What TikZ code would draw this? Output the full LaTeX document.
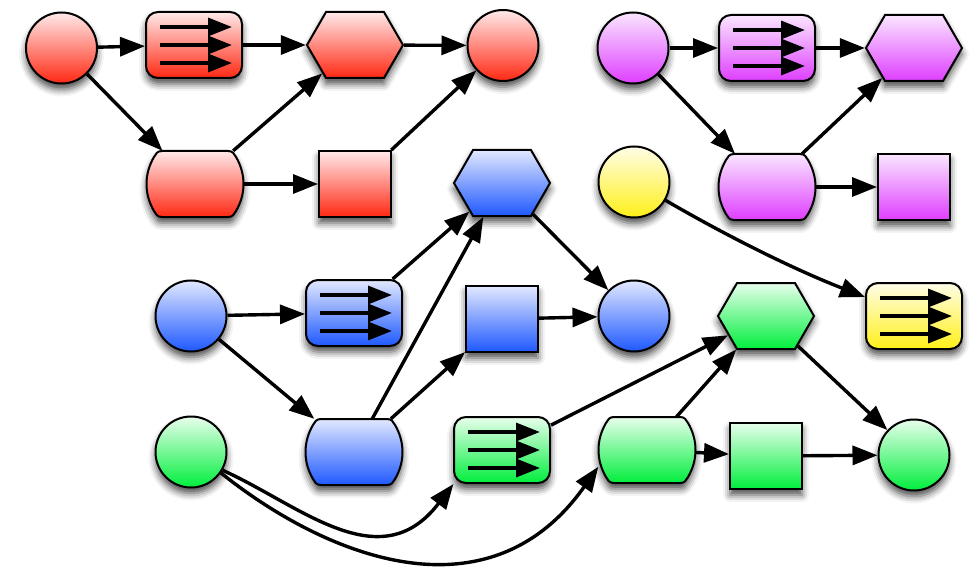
\documentclass[tikz,border=0pt]{standalone}
\usetikzlibrary{arrows.meta,shapes.symbols,shadows.blur}

% gradient colours: light top, saturated bottom
\definecolor{redTop}{RGB}{255,234,234}
\definecolor{redBot}{RGB}{255,40,18}
\definecolor{blueTop}{RGB}{226,232,255}
\definecolor{blueBot}{RGB}{30,88,255}
\definecolor{greenTop}{RGB}{232,255,236}
\definecolor{greenBot}{RGB}{0,238,60}
\definecolor{purpleTop}{RGB}{250,230,255}
\definecolor{purpleBot}{RGB}{222,62,255}
\definecolor{yellowTop}{RGB}{255,253,232}
\definecolor{yellowBot}{RGB}{255,240,24}

\tikzset{
  base/.style={draw=black, line width=2pt, inner sep=0pt,
    blur shadow={shadow xshift=0pt, shadow yshift=-6pt,
      shadow blur radius=7pt, shadow opacity=70}},
  dot/.style={base, circle, minimum size=71pt},
  flowbox/.style={base, rectangle, rounded corners=12pt,
    minimum width=96pt, minimum height=66pt},
  hexa/.style={base, signal, signal to=west and east,
    signal pointer angle=120, minimum width=96pt, minimum height=66pt},
  % the barrel outline is drawn separately; the node only holds the anchors
  pill/.style={rectangle, inner sep=0pt, minimum width=97pt, minimum height=66pt},
  sq/.style={base, rectangle, minimum width=72pt, minimum height=66pt},
  rf/.style={top color=redTop, bottom color=redBot},
  bf/.style={top color=blueTop, bottom color=blueBot},
  gf/.style={top color=greenTop, bottom color=greenBot},
  pf/.style={top color=purpleTop, bottom color=purpleBot},
  yf/.style={top color=yellowTop, bottom color=yellowBot},
  link/.style={-{Triangle[length=25pt,width=19pt]}, line width=3.4pt,
    draw=black, fill=black, opacity=1},
  inarrow/.style={-{Triangle[length=24pt,width=18pt]}, line width=3.4pt,
    draw=black, opacity=1},
}

\begin{document}
\begin{tikzpicture}[x=1pt,y=-1pt]
\useasboundingbox (0,0) rectangle (980,575);

% anchor holders of the barrel shapes
\node[pill] (rpl) at (195,184) {};
\node[pill] (ppl) at (767,187) {};
\node[pill] (bpl) at (354,452) {};
\node[pill] (gpl) at (647,450) {};

% barrel outlines: flat top and bottom, bulging sides, softened corners
\foreach \n/\c in {rpl/rf, ppl/pf, bpl/bf, gpl/gf}{
  \begin{scope}
  \path[base,\c]
    ([shift={(-33,-33)}]\n.center) -- ([shift={(33,-33)}]\n.center)
    .. controls ([shift={(38,-33)}]\n.center) and ([shift={(39,-30)}]\n.center)
    .. ([shift={(41,-27)}]\n.center)
    .. controls ([shift={(51,-10)}]\n.center) and ([shift={(51,10)}]\n.center)
    .. ([shift={(41,27)}]\n.center)
    .. controls ([shift={(39,30)}]\n.center) and ([shift={(38,33)}]\n.center)
    .. ([shift={(33,33)}]\n.center)
    -- ([shift={(-33,33)}]\n.center)
    .. controls ([shift={(-38,33)}]\n.center) and ([shift={(-39,30)}]\n.center)
    .. ([shift={(-41,27)}]\n.center)
    .. controls ([shift={(-51,10)}]\n.center) and ([shift={(-51,-10)}]\n.center)
    .. ([shift={(-41,-27)}]\n.center)
    .. controls ([shift={(-39,-30)}]\n.center) and ([shift={(-38,-33)}]\n.center)
    .. ([shift={(-33,-33)}]\n.center)
    -- cycle;
  \end{scope}
}

% red graph
\node[dot,rf]     (rc)  at (61.5,48) {};
\node[flowbox,rf] (rab) at (194,45) {};
\node[hexa,rf]    (rhx) at (355,45) {};
\node[dot,rf]     (re)  at (503,45.5) {};
\node[sq,rf]      (rsq) at (355,184) {};

% purple graph
\node[dot,pf]     (pc)  at (633,48) {};
\node[flowbox,pf] (pab) at (767,48) {};
\node[hexa,pf]    (phx) at (914,48) {};
\node[sq,pf]      (psq) at (914,187) {};

% yellow pair
\node[dot,yf]     (yc)  at (634,182) {};
\node[flowbox,yf] (yab) at (914,316) {};

% blue graph
\node[dot,bf]     (bc)  at (191,316) {};
\node[flowbox,bf] (bab) at (354,313) {};
\node[hexa,bf]    (bhx) at (502,183) {};
\node[sq,bf]      (bsq) at (502,319) {};
\node[dot,bf]     (be)  at (634,316) {};

% green graph
\node[dot,gf]     (gc)  at (191,452) {};
\node[flowbox,gf] (gab) at (502,450) {};
\node[hexa,gf]    (ghx) at (766,316) {};
\node[sq,gf]      (gsq) at (766,456) {};
\node[dot,gf]     (ge)  at (914,455) {};

% three parallel arrows inside each flow box
\foreach \n in {rab,pab,yab,bab,gab}
  \foreach \dy in {-18,0,18}
    \draw[inarrow] ([shift={(-34,\dy)}]\n.center) -- ([shift={(38,\dy)}]\n.center);

% red connectors
\draw[link] (rc) -- (rab);
\draw[link] (rab) -- (rhx);
\draw[link] (rhx) -- (re);
\draw[link] (rc) -- (rpl);
\draw[link] (rpl) -- (rhx);
\draw[link] (rpl) -- (rsq);
\draw[link] (rsq) -- (re);

% purple connectors
\draw[link] (pc) -- (pab);
\draw[link] (pab) -- (phx);
\draw[link] (pc) -- (ppl);
\draw[link] (ppl) -- (phx);
\draw[link] (ppl) -- (psq);

% yellow connector
\path[link,fill=none,draw=black] (yc) .. controls (732,239) and (798,271) .. (yab);

% blue connectors
\draw[link] (bc) -- (bab);
\draw[link] (bc) -- (bpl);
\draw[link] (bab) -- (bhx);
\draw[link] (bpl) -- (bhx);
\draw[link] (bpl) -- (bsq);
\draw[link] (bhx) -- (be);
\draw[link] (bsq) -- (be);

% green connectors
\path[link,fill=none,draw=black] (gc.-30) .. controls (300,505) and (380,580) .. (gab.215);
\path[link,fill=none,draw=black] (gc.-35) .. controls (330,560) and (490,620) .. (gpl.199);
\draw[link] (gab) -- (ghx);
\draw[link] (gpl) -- (ghx);
\draw[link] (gpl) -- (gsq);
\draw[link] (gsq) -- (ge);
\draw[link] (ghx) -- (ge);
\end{tikzpicture}
\end{document}
